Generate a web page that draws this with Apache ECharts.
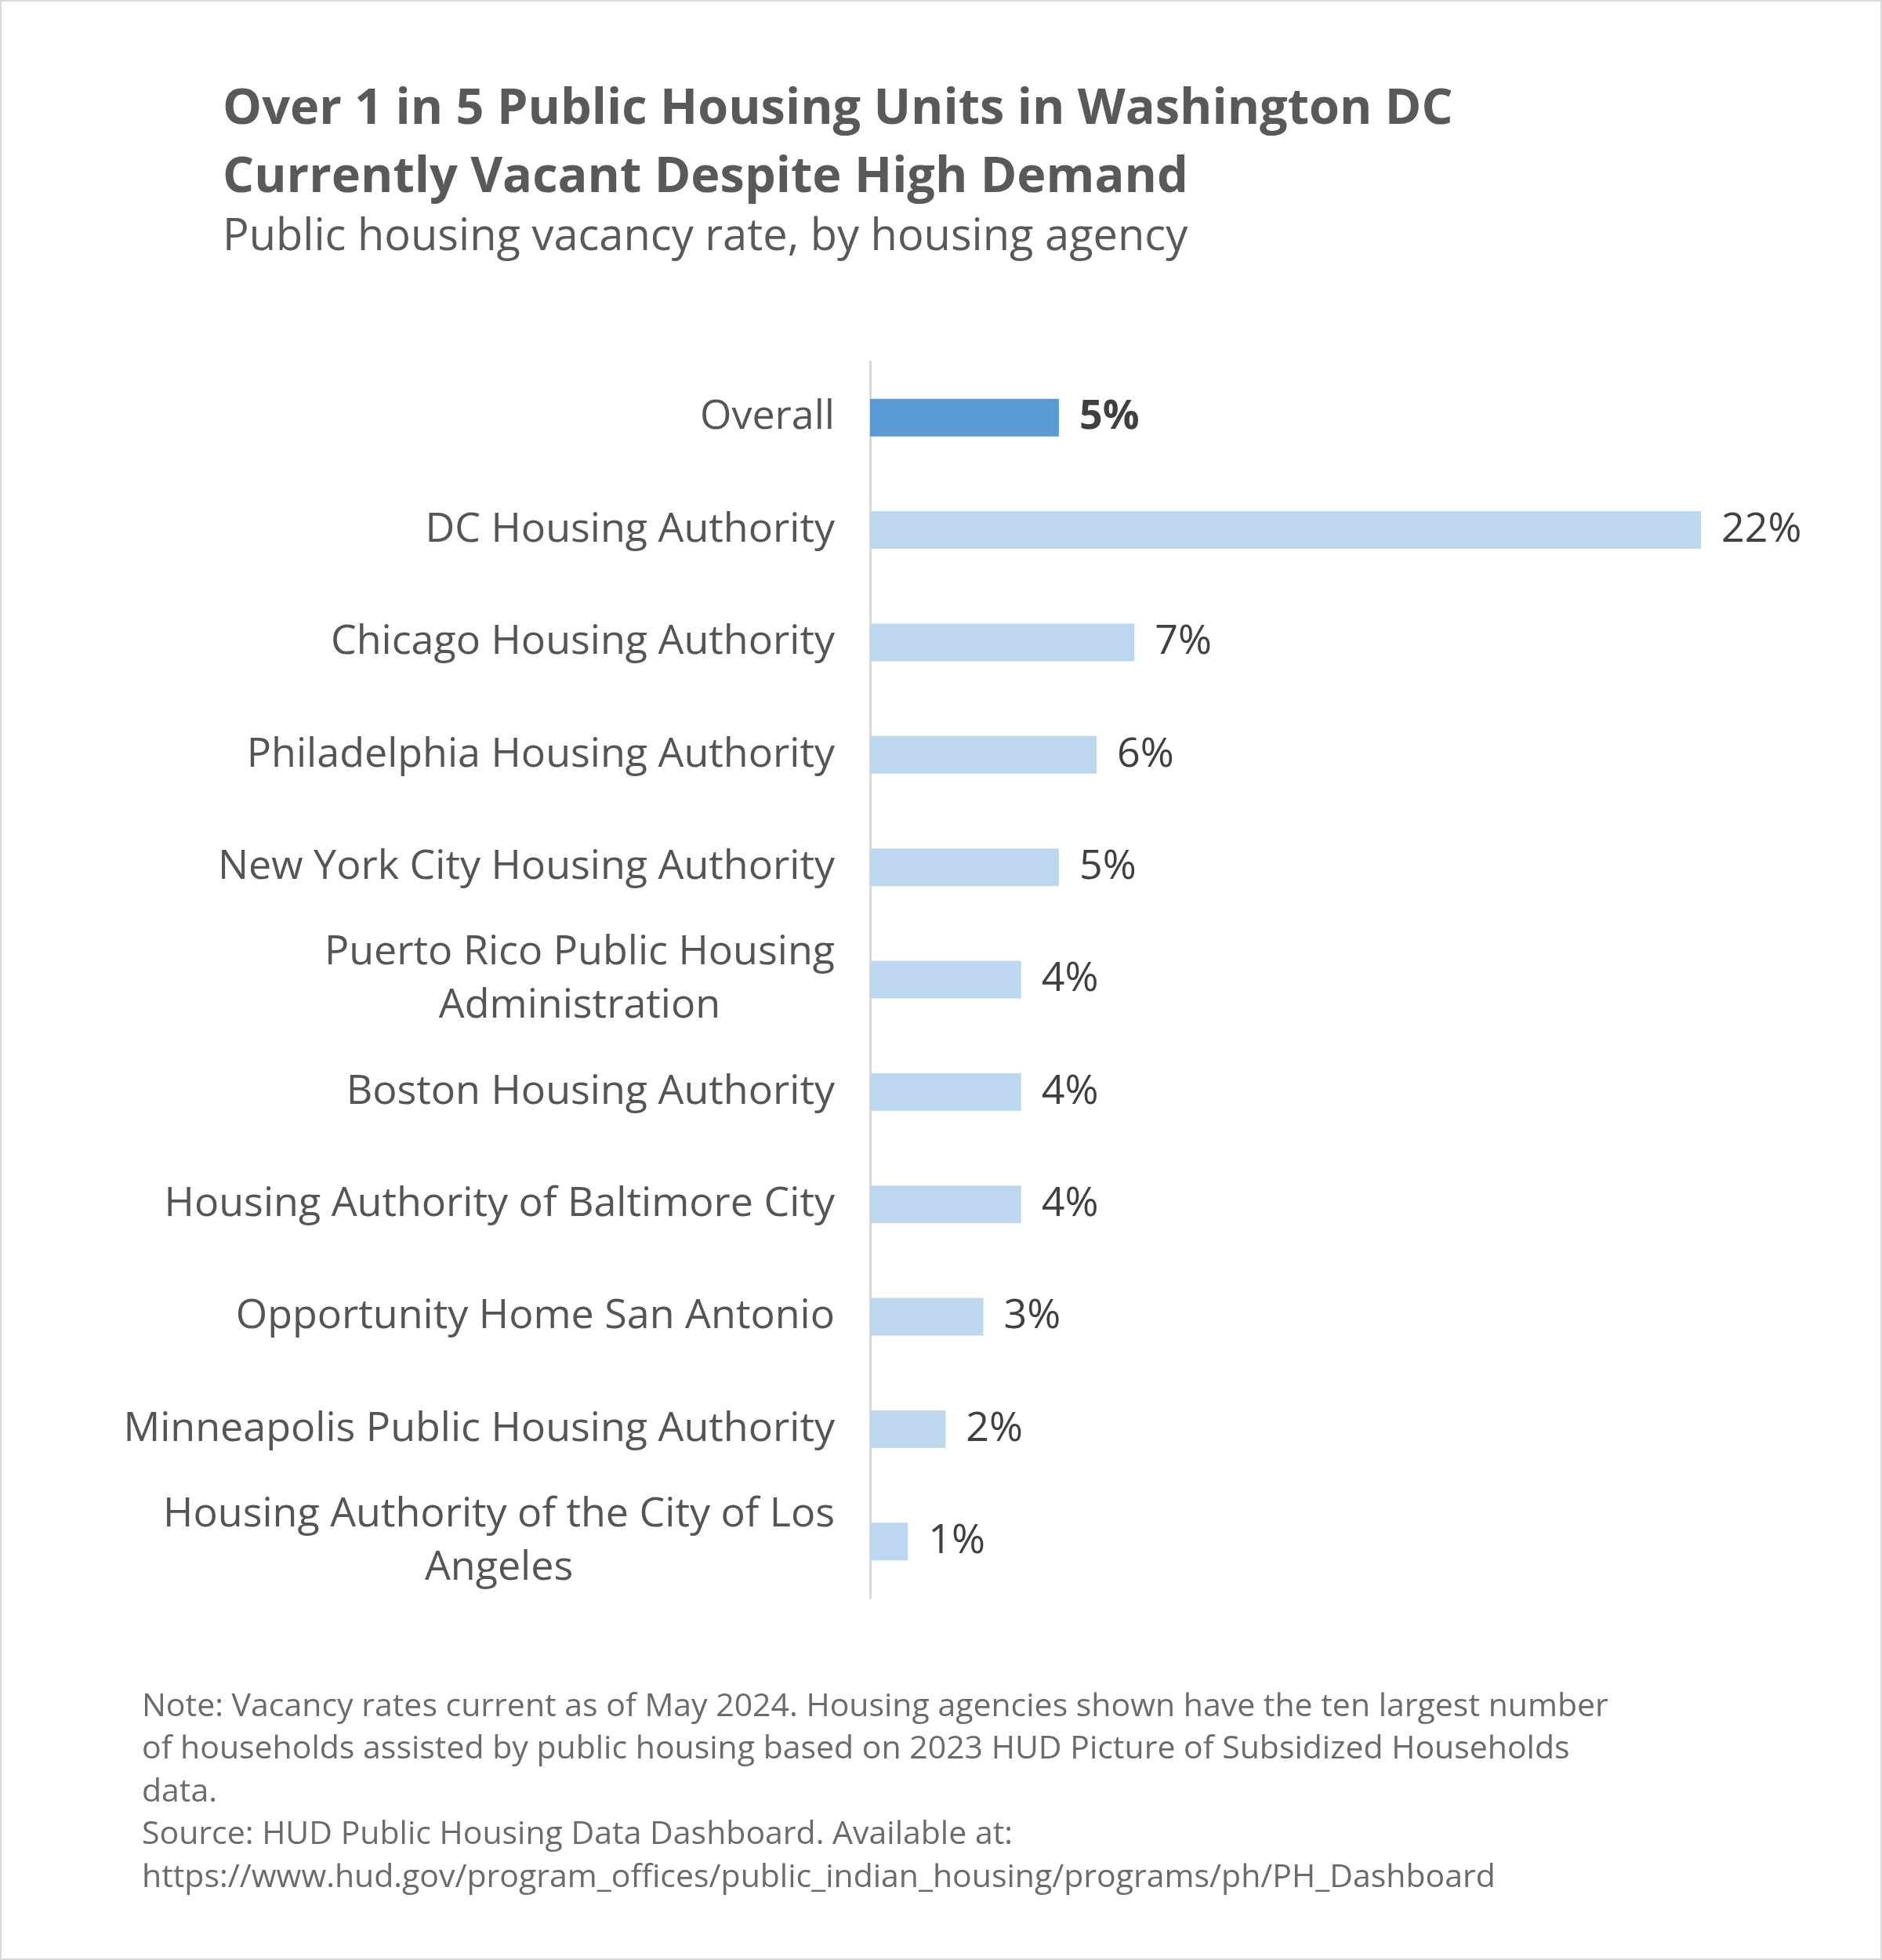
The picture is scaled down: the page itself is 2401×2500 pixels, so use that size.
<!DOCTYPE html>
<html>
<head>
<meta charset="utf-8">
<title>Public housing vacancy rate</title>
<script src="https://cdn.jsdelivr.net/npm/echarts@6/dist/echarts.min.js"></script>
<style>
  html, body { margin: 0; padding: 0; background: #fff; }
  #main { width: 2397px; height: 2496px; border: 2px solid #d9d9d9; }
</style>
</head>
<body>
<div id="main"></div>
<script>
// agencies, top to bottom
var agencies = [
  'Overall',
  'DC Housing Authority',
  'Chicago Housing Authority',
  'Philadelphia Housing Authority',
  'New York City Housing Authority',
  'Puerto Rico Public Housing\nAdministration',
  'Boston Housing Authority',
  'Housing Authority of Baltimore City',
  'Opportunity Home San Antonio',
  'Minneapolis Public Housing Authority',
  'Housing Authority of the City of Los\nAngeles'
];
var vacancy = [5, 22, 7, 6, 5, 4, 4, 4, 3, 2, 1];

var noteLines = [
  'Note: Vacancy rates current as of May 2024. Housing agencies shown have the ten largest number',
  'of households assisted by public housing based on 2023 HUD Picture of Subsidized Households',
  'data.',
  'Source: HUD Public Housing Data Dashboard. Available at:',
  'https://www.hud.gov/program_offices/public_indian_housing/programs/ph/PH_Dashboard'
];

var font = '"Open Sans", Lato, sans-serif';
var myChart = echarts.init(document.getElementById('main'));

var barData = vacancy.map(function (v, i) {
  return {
    value: v,
    itemStyle: { color: i === 0 ? '#5b9bd5' : '#bdd7ee' },
    label: { fontWeight: i === 0 ? 'bold' : 'normal' }
  };
});

var option = {
  animation: false,
  textStyle: { fontFamily: font },
  title: [{
    text: 'Over 1 in 5 Public Housing Units in Washington DC\nCurrently Vacant Despite High Demand',
    left: 277, top: 90,
    textStyle: { fontSize: 63, fontWeight: 'bold', color: '#595959', lineHeight: 87, fontFamily: font }
  }, {
    text: 'Public housing vacancy rate, by housing agency',
    left: 277, top: 268,
    textStyle: { fontSize: 56, fontWeight: 'normal', color: '#595959', fontFamily: font }
  }, {
    text: noteLines.join('\n'),
    left: 174, top: 2143,
    textStyle: { fontSize: 41, fontWeight: 'normal', color: '#6b6b6b', lineHeight: 54.5, fontFamily: font }
  }],
  grid: { left: 1108, top: 459, width: 1060, height: 1577, containLabel: false },
  xAxis: {
    type: 'value', min: 0, max: 22,
    show: false
  },
  yAxis: {
    type: 'category',
    inverse: true,
    data: agencies,
    axisLine: { show: true, lineStyle: { color: '#d9d9d9', width: 3 } },
    axisTick: { show: false },
    axisLabel: {
      margin: 45,
      formatter: function (v) {
        return v.split('\n').map(function (s) { return '{c|' + s + '}'; }).join('\n');
      },
      rich: {
        c: { fontSize: 52, color: '#555555', align: 'center', lineHeight: 68, fontFamily: font }
      }
    }
  },
  series: [{
    type: 'bar',
    data: barData,
    barWidth: 48,
    label: {
      show: true, position: 'right', distance: 26,
      fontSize: 52, color: '#404040', fontFamily: font,
      formatter: '{c}%'
    }
  }]
};

myChart.setOption(option);
</script>
</body>
</html>
